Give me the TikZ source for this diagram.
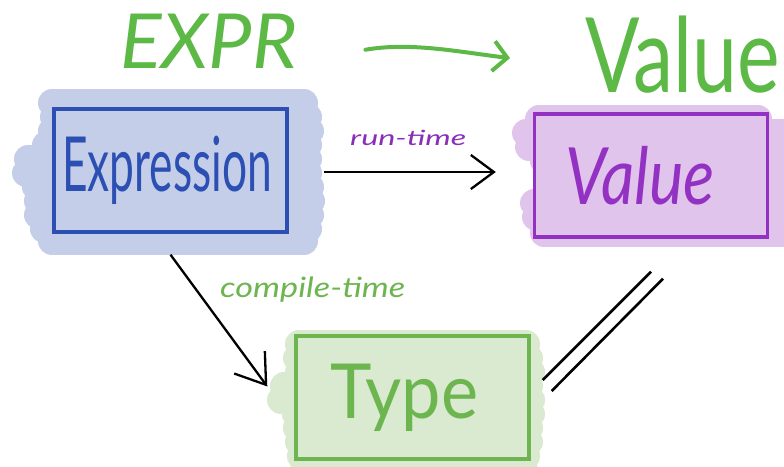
\documentclass[tikz,border=0pt]{standalone}
\usepackage{fontspec}
\setmainfont{Lato}
\usepackage{graphicx}
\usetikzlibrary{arrows.meta}

\definecolor{blueFill}{HTML}{C5CEE8}
\definecolor{blueInk}{HTML}{2C4FB3}
\definecolor{purpleFill}{HTML}{E1C4EC}
\definecolor{purpleInk}{HTML}{9231C2}
\definecolor{greenFill}{HTML}{D9EAD0}
\definecolor{greenInk}{HTML}{6DB54F}
\definecolor{titleGreen}{HTML}{5CB946}
\definecolor{labelPurple}{HTML}{8A2DB8}

% squeeze a text to a given width, keeping its height
\newcommand\fitw[2]{\resizebox{#1}{\height}{#2}}
\newcommand\fsz[1]{\fontsize{#1}{#1}\selectfont}

\tikzset{
  marker/.style={line width=28pt, line cap=round, draw=#1},
  box/.style={draw=#1, line width=3.4pt, minimum width=233pt, minimum height=123pt,
              inner sep=0pt, text=#1},
  title/.style={anchor=base west, inner sep=0pt, text=titleGreen},
  edgelabel/.style={anchor=base west, inner sep=0pt, text=#1},
  link/.style={line width=2.3pt, black},
}

\begin{document}
\begin{tikzpicture}[x=1pt,y=-1pt]
\useasboundingbox (0,0) rectangle (784,466);
\fill[white] (0,0) rectangle (784,466);

% highlighter strokes behind the three boxes (y / left edge / right edge)
\foreach \yy/\xa/\xb in {103/38/318, 117/40/322, 131/38/324, 145/32/322, 159/14/322,
                         173/12/322, 187/22/324, 201/24/325, 215/24/324, 229/30/322, 241/38/318}
  \draw[marker=blueFill] (\xa+14,\yy) -- (\xb-14,\yy);
\foreach \yy/\xa/\xb in {119/525/772, 133/512/800, 147/515/800, 161/530/800, 175/533/800,
                         189/535/800, 203/520/800, 217/522/800, 233/530/800}
  \draw[marker=purpleFill] (\xa+14,\yy) -- (\xb-14,\yy);
\foreach \yy/\xa/\xb in {344/285/540, 358/283/543, 372/285/545, 386/270/543, 400/267/545,
                         414/282/545, 428/283/543, 442/285/543, 456/287/540, 470/290/538}
  \draw[marker=greenFill] (\xa+14,\yy) -- (\xb-14,\yy);

% boxes
\node[box=blueInk] (expr) at (170.5,170.5) {\fitw{210pt}{\fsz{76}Expression}\hspace*{7pt}};
\node[box=purpleInk] (val) at (651,175.5) {\fitw{150pt}{\fsz{79}\itshape Value}\hspace*{22pt}};
\node[box=greenInk] (type) at (412.5,397.5) {\fitw{148pt}{\fsz{76}Type}\hspace*{17pt}};

% titles
\node[title] (t1) at (120,68) {\fitw{177pt}{\fsz{76}\itshape EXPR}};
\node[title] (t2) at (585,92) {\fitw{195pt}{\fsz{104}Value}};
\draw[line width=4pt, titleGreen, line cap=round, -{Straight Barb[length=14pt,width=30pt,line width=4pt]}]
  ([xshift=68pt,yshift=-9pt]t1.east) .. controls +(45,-8) and +(-50,-6) .. ([xshift=-75pt,yshift=-4pt]t2.west);

% run-time arrow
\draw[link, -{Straight Barb[length=23pt,width=34pt,line width=2.3pt]}, shorten <=35pt, shorten >=37pt]
  ([yshift=-1.5pt]expr.east) -- ([yshift=-1.5pt]expr.east -| val.west);
\node[edgelabel=labelPurple] (rt) at (350,145) {\fitw{116pt}{\fsz{21}\itshape run-time}};

% compile-time arrow
\draw[link, -{Straight Barb[length=28pt,width=38pt,line width=2.3pt]}]
  ([yshift=-21pt]expr.south) -- ([xshift=-27pt,yshift=11pt]type.west);
\node[edgelabel=greenInk] (ct) at (220,297) {\fitw{185pt}{\fsz{28}\itshape compile-time}};

% equivalence between value and type
\draw[link, line width=2.6pt] ([xshift=12pt,yshift=17.5pt]type.east) -- ([yshift=-33pt]val.south);
\draw[link, line width=2.6pt] ([xshift=21pt,yshift=6.5pt]type.east) -- ([xshift=12pt,yshift=-40pt]val.south);
\end{tikzpicture}
\end{document}
